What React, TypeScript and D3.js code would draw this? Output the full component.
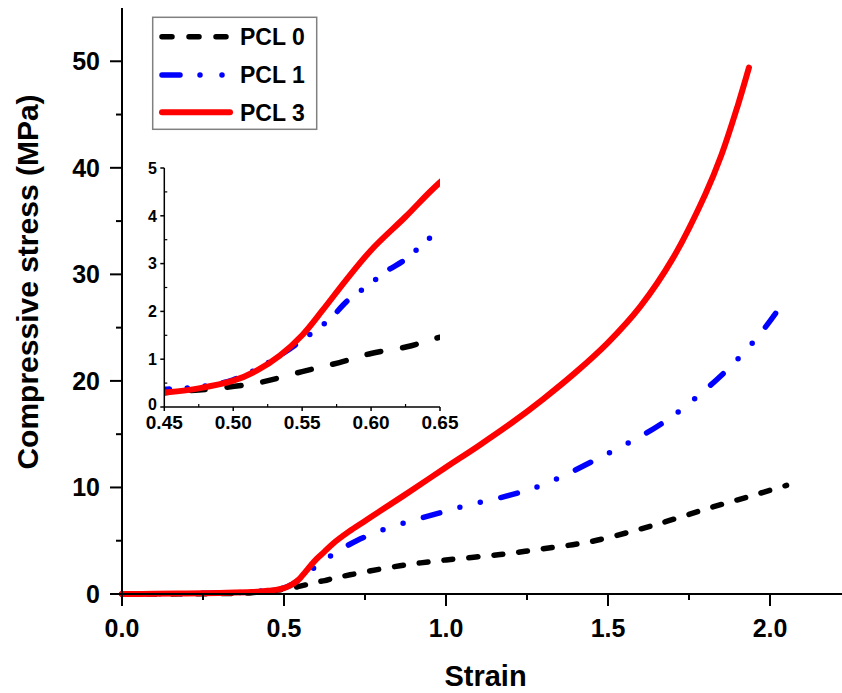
import React from "react";
import * as d3 from "d3";

// Compressive stress–strain curves for three PCL loadings
const strainPCL0 = [0, 0.2, 0.4, 0.45, 0.481, 0.517, 0.55, 0.577, 0.6, 0.626, 0.65, 0.704, 0.858, 1.0, 1.167, 1.3, 1.444, 1.6, 1.69, 1.805, 1.93, 2.051];
const stressPCL0 = [0, 0.02, 0.12, 0.3, 0.37, 0.5, 0.74, 0.93, 1.12, 1.26, 1.46, 1.8, 2.65, 3.2, 3.7, 4.25, 4.9, 6.1, 6.9, 8.0, 9.1, 10.2];

const strainPCL1 = [0, 0.2, 0.4, 0.45, 0.475, 0.5, 0.517, 0.534, 0.55, 0.56, 0.571, 0.582, 0.599, 0.61, 0.626, 0.638, 0.65, 0.724, 0.827, 0.975, 1.064, 1.2, 1.311, 1.455, 1.671, 1.856, 1.969, 2.051];
const stressPCL1 = [0, 0.04, 0.2, 0.37, 0.42, 0.57, 0.79, 1.08, 1.4, 1.61, 1.86, 2.2, 2.57, 2.82, 3.11, 3.42, 3.7, 5.0, 6.25, 7.56, 8.3, 9.3, 10.4, 12.5, 16.1, 20.7, 24.4, 27.8];

const strainPCL3 = [0, 0.1, 0.2, 0.3, 0.4, 0.45, 0.475, 0.5, 0.517, 0.534, 0.55, 0.565, 0.582, 0.6, 0.625, 0.65, 0.7, 0.75, 0.8, 0.9, 1.0, 1.1, 1.2, 1.3, 1.4, 1.5, 1.6, 1.7, 1.8, 1.85, 1.9, 1.935];
const stressPCL3 = [0, 0.02, 0.05, 0.1, 0.18, 0.3, 0.39, 0.55, 0.76, 1.08, 1.5, 2.03, 2.66, 3.28, 3.98, 4.7, 5.85, 6.85, 7.85, 9.85, 11.9, 13.9, 16.0, 18.3, 20.8, 23.6, 27.0, 31.5, 37.5, 41.2, 45.8, 49.4];

const seriesNames = ["PCL 0", "PCL 1", "PCL 3"];
const seriesColors = ["#000000", "#0000ff", "#ff0000"];

const mainXTicks = [0, 0.5, 1.0, 1.5, 2.0];
const mainXMinor = [0.25, 0.75, 1.25, 1.75, 2.25];
const mainYTicks = [0, 10, 20, 30, 40, 50];
const mainYMinor = [5, 15, 25, 35, 45];

const insetXTicks = [0.45, 0.5, 0.55, 0.6, 0.65];
const insetXMinor = [0.475, 0.525, 0.575, 0.625];
const insetYTicks = [0, 1, 2, 3, 4, 5];
const insetYMinor = [0.5, 1.5, 2.5, 3.5, 4.5];

const FONT = "'Liberation Sans', Arial, sans-serif";

type Pt = [number, number];
const zipPts = (xs: number[], ys: number[]): Pt[] => xs.map((x, i) => [x, ys[i]]);

const series = [
  { name: seriesNames[0], color: seriesColors[0], data: zipPts(strainPCL0, stressPCL0), dashMain: "9 16", dashInset: "14 22", legendDash: "10 17", width: 5.5 },
  { name: seriesNames[1], color: seriesColors[1], data: zipPts(strainPCL1, stressPCL1), dashMain: "17 21 0 21 0 21", dashInset: "14 18 0 18 0 18", legendDash: "18 20 0 22 0 22", width: 5.5 },
  { name: seriesNames[2], color: seriesColors[2], data: zipPts(strainPCL3, stressPCL3), dashMain: "none", dashInset: "none", legendDash: "none", width: 6 },
];

export default function App() {
  const W = 842;
  const H = 693;

  const x = d3.scaleLinear().domain([0, 2.22]).range([122, 841.3]);
  const y = d3.scaleLinear().domain([0, 55]).range([594, 8]);

  const ix = d3.scaleLinear().domain([0.45, 0.65]).range([164.3, 440]);
  const iy = d3.scaleLinear().domain([0, 5]).range([407, 168]);

  const mainLine = d3
    .line<Pt>()
    .x((d) => x(d[0]))
    .y((d) => y(d[1]))
    .curve(d3.curveCatmullRom.alpha(0.5));

  const insetLine = d3
    .line<Pt>()
    .x((d) => ix(d[0]))
    .y((d) => iy(d[1]))
    .curve(d3.curveCatmullRom.alpha(0.5));

  const legendRows = [36.7, 75, 112.3];

  return (
    <svg
      width={W}
      height={H}
      viewBox={`0 0 ${W} ${H}`}
      style={{ position: "absolute", left: 0, top: 0, background: "#fff" }}
    >
      <defs>
        <clipPath id="insetClip">
          <rect x={ix(0.45)} y={iy(5)} width={ix(0.65) - ix(0.45)} height={iy(0) - iy(5) + 1} />
        </clipPath>
      </defs>
      <rect width={W} height={H} fill="#fff" />

      {/* main curves */}
      {series.map((s) => (
        <path
          key={"m" + s.name}
          d={mainLine(s.data) || ""}
          fill="none"
          stroke={s.color}
          strokeWidth={s.width}
          strokeDasharray={s.dashMain}
          strokeLinecap="round"
          strokeLinejoin="round"
        />
      ))}

      {/* main axes */}
      <line x1={x(0)} x2={W} y1={y(0)} y2={y(0)} stroke="#000" strokeWidth={2} />
      <line x1={x(0)} x2={x(0)} y1={y(0)} y2={y(55)} stroke="#000" strokeWidth={2} />
      {mainXTicks.map((t) => (
        <g key={"xt" + t}>
          <line x1={x(t)} x2={x(t)} y1={y(0)} y2={y(0) + 12} stroke="#000" strokeWidth={2} />
          <text x={x(t)} y={637} textAnchor="middle" fontFamily={FONT} fontWeight="bold" fontSize={25}>
            {t.toFixed(1)}
          </text>
        </g>
      ))}
      {mainXMinor.map((t) => (
        <line key={"xm" + t} x1={x(t)} x2={x(t)} y1={y(0)} y2={y(0) + 6} stroke="#000" strokeWidth={2} />
      ))}
      {mainYTicks.map((t) => (
        <g key={"yt" + t}>
          <line x1={x(0) - 12} x2={x(0)} y1={y(t)} y2={y(t)} stroke="#000" strokeWidth={2} />
          <text x={100} y={y(t)} dy="0.36em" textAnchor="end" fontFamily={FONT} fontWeight="bold" fontSize={25}>
            {t}
          </text>
        </g>
      ))}
      {mainYMinor.map((t) => (
        <line key={"ym" + t} x1={x(0) - 6} x2={x(0)} y1={y(t)} y2={y(t)} stroke="#000" strokeWidth={2} />
      ))}

      <text x={485.5} y={686} textAnchor="middle" fontFamily={FONT} fontWeight="bold" fontSize={29}>
        Strain
      </text>
      <text
        transform="translate(38,282) rotate(-90)"
        textAnchor="middle"
        fontFamily={FONT}
        fontWeight="bold"
        fontSize={30}
      >
        Compressive stress (MPa)
      </text>

      {/* inset: magnified view of the yield region */}
      <g clipPath="url(#insetClip)">
        {series.map((s) => (
          <path
            key={"i" + s.name}
            d={insetLine(s.data) || ""}
            fill="none"
            stroke={s.color}
            strokeWidth={s.width}
            strokeDasharray={s.dashInset}
            strokeLinecap="round"
            strokeLinejoin="round"
          />
        ))}
      </g>
      <line x1={ix(0.45)} x2={ix(0.65)} y1={iy(0)} y2={iy(0)} stroke="#000" strokeWidth={1.5} />
      <line x1={ix(0.45)} x2={ix(0.45)} y1={iy(0)} y2={iy(5)} stroke="#000" strokeWidth={1.5} />
      {insetXTicks.map((t) => (
        <g key={"ixt" + t}>
          <line x1={ix(t)} x2={ix(t)} y1={iy(0)} y2={iy(0) + 4} stroke="#000" strokeWidth={1.5} />
          <text x={ix(t)} y={429} textAnchor="middle" fontFamily={FONT} fontWeight="bold" fontSize={19}>
            {t.toFixed(2)}
          </text>
        </g>
      ))}
      {insetXMinor.map((t) => (
        <line key={"ixm" + t} x1={ix(t)} x2={ix(t)} y1={iy(0)} y2={iy(0) - 3} stroke="#000" strokeWidth={1.2} />
      ))}
      {insetYTicks.map((t) => (
        <g key={"iyt" + t}>
          <line x1={ix(0.45) - 4} x2={ix(0.45)} y1={iy(t)} y2={iy(t)} stroke="#000" strokeWidth={1.5} />
          <text x={157} y={iy(t) - (t === 0 ? 3 : 0)} dy="0.36em" textAnchor="end" fontFamily={FONT} fontWeight="bold" fontSize={16}>
            {t}
          </text>
        </g>
      ))}
      {insetYMinor.map((t) => (
        <line key={"iym" + t} x1={ix(0.45)} x2={ix(0.45) + 3} y1={iy(t)} y2={iy(t)} stroke="#000" strokeWidth={1.2} />
      ))}

      {/* legend */}
      <rect x={152.7} y={17.3} width={164} height={112} fill="#fff" stroke="#808080" strokeWidth={1.5} />
      {series.map((s, i) => (
        <g key={"lg" + s.name}>
          <line
            x1={162}
            x2={230}
            y1={legendRows[i]}
            y2={legendRows[i]}
            stroke={s.color}
            strokeWidth={s.width}
            strokeDasharray={s.legendDash}
            strokeLinecap="round"
          />
          <text x={240} y={legendRows[i]} dy="0.36em" fontFamily={FONT} fontWeight="bold" fontSize={23}>
            {s.name}
          </text>
        </g>
      ))}
    </svg>
  );
}
